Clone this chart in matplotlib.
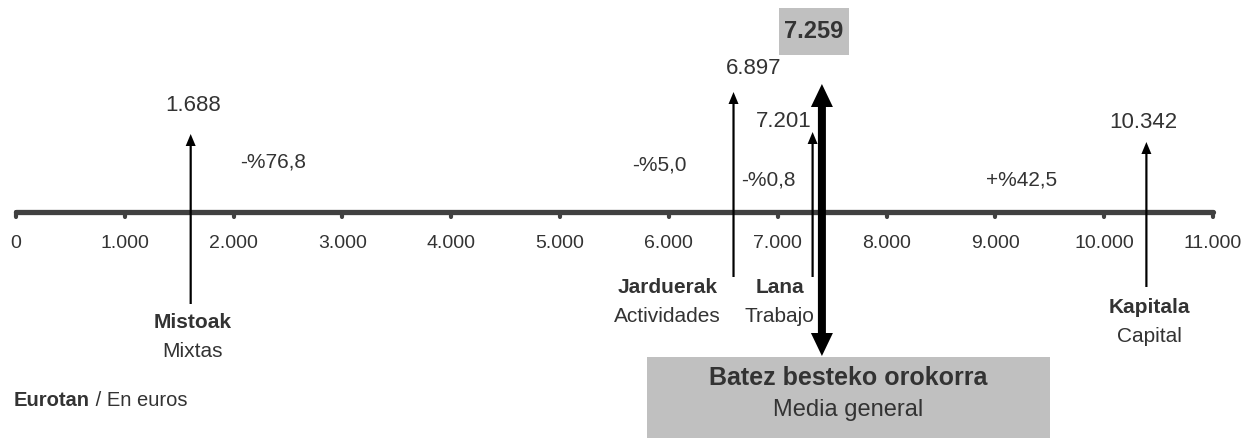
import numpy as np
import matplotlib
matplotlib.use('Agg')
import matplotlib.pyplot as plt
from matplotlib.patches import Rectangle

plt.rcParams['font.family'] = ['Liberation Sans', 'DejaVu Sans']

# Data
names_eu = ['Mistoak', 'Jarduerak', 'Lana', 'Kapitala']
names_es = ['Mixtas', 'Actividades', 'Trabajo', 'Capital']
values = [1688, 6897, 7201, 10342]
changes = ['-%76,8', '-%5,0', '-%0,8', '+%42,5']
mean_value = 7259
mean_label_eu = 'Batez besteko orokorra'
mean_label_es = 'Media general'
ticks = list(range(0, 12000, 1000))
tick_labels = [f'{t:,}'.replace(',', '.') for t in ticks]

W, H = 1257, 439
X0_PX = 16                # pixel of value 0
PX = 11000 / 1197         # data units per pixel
TXT = '#333333'
AXC = '#404040'
BOX = '#c0c0c0'

def fmt(v):
    return f'{v:,}'.replace(',', '.')

fig = plt.figure(figsize=(W / 100, H / 100), dpi=100)
ax = fig.add_axes([0, 0, 1, 1])
ax.set_xlim(-X0_PX * PX, (W - X0_PX) * PX)
ax.set_ylim(H, 0)
ax.axis('off')

# axis line with tick nubs
axis_y = 213
ax.plot([ticks[0], ticks[-1]], [axis_y, axis_y], color=AXC, lw=3.8,
        solid_capstyle='round', zorder=2)
for t, lab in zip(ticks, tick_labels):
    ax.plot([t, t], [axis_y, 218], color=AXC, lw=3.0, solid_capstyle='round', zorder=2)
    ax.text(t, 244, lab, ha='center', va='center', fontsize=14, color=TXT)

# per-category layout (pixel nudges / vertical extents), arrows spread apart for legibility
nudge = [-9, -33, 13, 5]
tip_y = [135, 93, 133, 143]
base_y = [305, 278, 278, 288]
val_y = [106, 68, 122, 123]
val_dx = [2, 20, -29, -3]
lab_y = [323, 288, 288, 308]
lab_dx = [2, -66, -33, 3]
chg_dx = [82, -74, -44, -125]
chg_y = [162, 165, 180, 180]

for i, v in enumerate(values):
    x = v + nudge[i] * PX
    ax.arrow(x, base_y[i], 0, tip_y[i] - base_y[i], width=2.2 * PX,
             head_width=10 * PX, head_length=12, length_includes_head=True,
             color='black', lw=0, zorder=3)
    ax.text(x + val_dx[i] * PX, val_y[i], fmt(v), ha='center', va='center',
            fontsize=16, color=TXT)
    ax.text(x + lab_dx[i] * PX, lab_y[i], names_eu[i], ha='center', va='center',
            fontsize=15, fontweight='bold', color=TXT)
    ax.text(x + lab_dx[i] * PX, lab_y[i] + 29, names_es[i], ha='center', va='center',
            fontsize=15, color=TXT)
    ax.text(x + chg_dx[i] * PX, chg_y[i], changes[i], ha='center', va='center',
            fontsize=15, color=TXT)

# general mean: thick double arrow
mx = mean_value + 16 * PX
mid = 221
for end in (85, 357):
    ax.arrow(mx, mid, 0, end - mid, width=8 * PX, head_width=22 * PX,
             head_length=23, length_includes_head=True, color='black', lw=0, zorder=4)

# mean value box on top
bx = mx - 8 * PX
ax.add_patch(Rectangle((bx - 35 * PX, 9), 70 * PX, 47, color=BOX, lw=0, zorder=1))
ax.text(bx, 32, fmt(mean_value), ha='center', va='center', fontsize=17,
        fontweight='bold', color=TXT)

# mean label box at bottom
lx = mx + 26 * PX
ax.add_patch(Rectangle((lx - 201 * PX, 358), 403 * PX, 81, color=BOX, lw=0, zorder=1))
ax.text(lx, 378, mean_label_eu, ha='center', va='center', fontsize=18,
        fontweight='bold', color=TXT)
ax.text(lx, 410, mean_label_es, ha='center', va='center', fontsize=17, color=TXT)

# unit note
t = ax.text(-X0_PX * PX + 14 * PX, 401, 'Eurotan', ha='left', va='center',
            fontsize=14.5, fontweight='bold', color=TXT)
ax.annotate(' / En euros', xycoords=t, xy=(1, 0.5), ha='left', va='center',
            fontsize=14.5, color=TXT)

fig.savefig('out.png', dpi=100)
